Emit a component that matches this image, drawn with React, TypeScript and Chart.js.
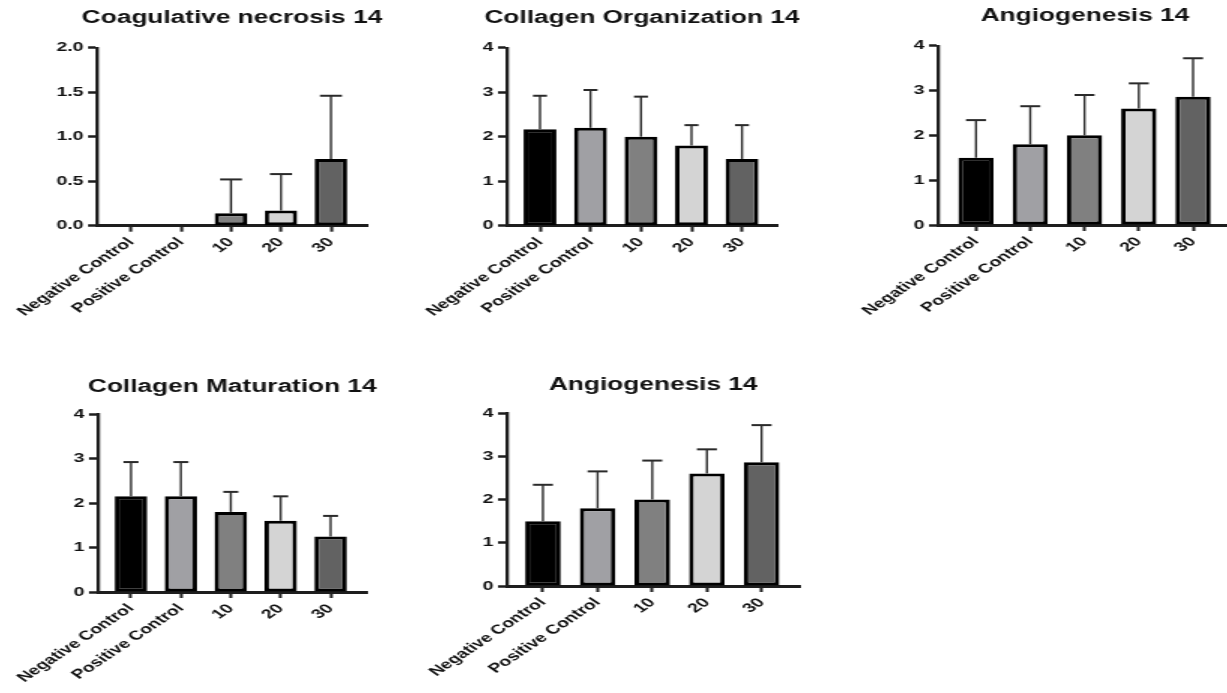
import React, { useEffect, useRef } from 'react';
import { Chart, registerables } from 'chart.js';

Chart.register(...registerables);

// ---------- data ----------
const categories = ['Negative Control', 'Positive Control', '10', '20', '30'];
const barColors = ['#000000', '#a0a0a4', '#808080', '#d4d4d4', '#626262'];

const necrosisMean = [0, 0, 0.14, 0.17, 0.75];
const necrosisSD = [0, 0, 0.38, 0.41, 0.71];

const organizationMean = [2.17, 2.2, 2.0, 1.8, 1.5];
const organizationSD = [0.75, 0.85, 0.9, 0.46, 0.76];

const angiogenesisMean = [1.5, 1.8, 2.0, 2.6, 2.86];
const angiogenesisSD = [0.84, 0.85, 0.9, 0.56, 0.86];

const maturationMean = [2.15, 2.15, 1.8, 1.6, 1.25];
const maturationSD = [0.77, 0.77, 0.45, 0.55, 0.46];

// ---------- layout / style ----------
const FONT = "'Liberation Sans', Arial, Helvetica, sans-serif";
const S = 1.5; // horizontal stretch of the reference
const WY = 80; // y-axis box width (unstretched px)
const AXIS = '#1e1e1e';

type PanelCfg = {
  title: string;
  mean: number[];
  sd: number[];
  yMax: number;
  yStep: number;
  dec: number;
  PA: number; PB: number; p0: number; d: number;
  T: number; H: number; titleY: number; top: number; bottom: number; cap: number;
};

const panels: PanelCfg[] = [
  { title: 'Coagulative necrosis 14', mean: necrosisMean, sd: necrosisSD, yMax: 2, yStep: 0.5, dec: 1,
    PA: 97, PB: 367, p0: 131, d: 50, T: 0, H: 340, titleY: 18.5, top: 47.7, bottom: 225.7, cap: 22 },
  { title: 'Collagen Organization 14', mean: organizationMean, sd: organizationSD, yMax: 4, yStep: 1, dec: 0,
    PA: 507, PB: 777, p0: 540, d: 50.5, T: 0, H: 340, titleY: 18, top: 47.7, bottom: 225.7, cap: 14 },
  { title: 'Angiogenesis 14', mean: angiogenesisMean, sd: angiogenesisSD, yMax: 4, yStep: 1, dec: 0,
    PA: 938, PB: 1232, p0: 976, d: 54.25, T: 0, H: 340, titleY: 16.5, top: 45.7, bottom: 225, cap: 20 },
  { title: 'Collagen Maturation 14', mean: maturationMean, sd: maturationSD, yMax: 4, yStep: 1, dec: 0,
    PA: 98, PB: 367, p0: 131, d: 50, T: 355, H: 338, titleY: 386.7, top: 414, bottom: 592, cap: 15 },
  { title: 'Angiogenesis 14', mean: angiogenesisMean, sd: angiogenesisSD, yMax: 4, yStep: 1, dec: 0,
    PA: 507, PB: 800, p0: 543, d: 54.75, T: 355, H: 338, titleY: 385, top: 413, bottom: 586, cap: 20 },
];

function Panel({ cfg }: { cfg: PanelCfg }) {
  const ref = useRef<HTMLCanvasElement | null>(null);
  const L = cfg.PA - S * WY;
  const W = Math.round((cfg.PB - cfg.PA) / S + 2 * WY);
  const xmin = -(cfg.p0 - cfg.PA) / cfg.d;
  const xmax = 4 + (cfg.PB - (cfg.p0 + 4 * cfg.d)) / cfg.d;
  const titleSize = 17.5;
  const titleLH = titleSize * 1.2;
  const padTop = cfg.titleY - cfg.T - titleLH / 2;
  const padBottom = cfg.top - cfg.T - padTop - titleLH;
  const xH = cfg.H - (cfg.bottom - cfg.T);

  useEffect(() => {
    if (!ref.current) return;
    const capU = cfg.cap / S;
    const errorBars = {
      id: 'errorBars',
      afterDatasetsDraw(chart: any) {
        const { ctx } = chart;
        const meta = chart.getDatasetMeta(0);
        const yScale = chart.scales.y;
        ctx.save();
        ctx.strokeStyle = '#2a2a2a';
        meta.data.forEach((bar: any, i: number) => {
          const sd = cfg.sd[i];
          if (!sd) return;
          const m = cfg.mean[i];
          const yBase = yScale.getPixelForValue(m);
          const yTop = yScale.getPixelForValue(m + sd);
          ctx.lineWidth = 1.4;
          ctx.beginPath();
          ctx.moveTo(bar.x, yBase);
          ctx.lineTo(bar.x, yTop);
          ctx.stroke();
          ctx.lineWidth = 2;
          ctx.beginPath();
          ctx.moveTo(bar.x - capU / 2, yTop);
          ctx.lineTo(bar.x + capU / 2, yTop);
          ctx.stroke();
        });
        ctx.restore();
      },
    };

    const chart = new Chart(ref.current, {
      type: 'bar',
      data: {
        datasets: [
          {
            label: cfg.title,
            data: cfg.mean.map((v, i) => ({ x: i, y: v })),
            backgroundColor: barColors,
            borderColor: '#000000',
            borderWidth: 3,
            borderSkipped: false,
            barPercentage: 0.65,
            categoryPercentage: 1,
          },
        ],
      },
      options: {
        responsive: false,
        animation: false,
        layout: { padding: 0 },
        plugins: {
          legend: { display: false },
          tooltip: { enabled: false },
          title: {
            display: true,
            text: cfg.title,
            color: '#111111',
            font: { family: FONT, size: titleSize, weight: 'bold', lineHeight: 1.2 },
            padding: { top: padTop, bottom: padBottom },
          },
        },
        scales: {
          x: {
            type: 'linear',
            min: xmin,
            max: xmax,
            offset: false,
            afterBuildTicks: (s: any) => {
              s.ticks = categories.map((_, i) => ({ value: i }));
            },
            afterFit: (s: any) => {
              s.height = xH;
            },
            grid: {
              offset: false,
              drawOnChartArea: false,
              drawTicks: true,
              tickLength: 6,
              tickWidth: 2,
              tickColor: AXIS,
              color: AXIS,
            },
            border: { display: true, color: AXIS, width: 3 },
            ticks: {
              autoSkip: false,
              minRotation: 45,
              maxRotation: 45,
              padding: 3,
              color: '#111111',
              font: { family: FONT, size: 13, weight: 'bold' },
              callback: (v: any) => categories[Number(v)] ?? '',
            },
          },
          y: {
            type: 'linear',
            position: 'left',
            min: 0,
            max: cfg.yMax,
            afterFit: (s: any) => {
              s.width = WY;
            },
            grid: {
              offset: false,
              drawOnChartArea: false,
              drawTicks: true,
              tickLength: 6,
              tickWidth: 2.5,
              tickColor: AXIS,
              color: AXIS,
            },
            border: { display: true, color: AXIS, width: 2.3 },
            ticks: {
              stepSize: cfg.yStep,
              padding: 3,
              color: '#111111',
              font: { family: FONT, size: 13, weight: 'bold' },
              callback: (v: any) => Number(v).toFixed(cfg.dec),
            },
          },
          yR: {
            type: 'linear',
            position: 'right',
            display: true,
            afterFit: (s: any) => {
              s.width = WY;
            },
            grid: { display: false },
            border: { display: false },
            ticks: { display: false },
          },
        },
      } as any,
      plugins: [errorBars],
    });
    return () => chart.destroy();
  }, []);

  return (
    <div
      style={{
        position: 'absolute',
        left: L,
        top: cfg.T,
        width: W,
        height: cfg.H,
        transform: `scaleX(${S})`,
        transformOrigin: '0 0',
      }}
    >
      <canvas ref={ref} width={W} height={cfg.H} style={{ display: 'block' }} />
    </div>
  );
}

export default function App() {
  return (
    <div
      style={{
        position: 'absolute',
        left: 0,
        top: 0,
        width: 1227,
        height: 693,
        overflow: 'hidden',
        background: '#ffffff',
      }}
    >
      {panels.map((p, i) => (
        <Panel key={i} cfg={p} />
      ))}
    </div>
  );
}
